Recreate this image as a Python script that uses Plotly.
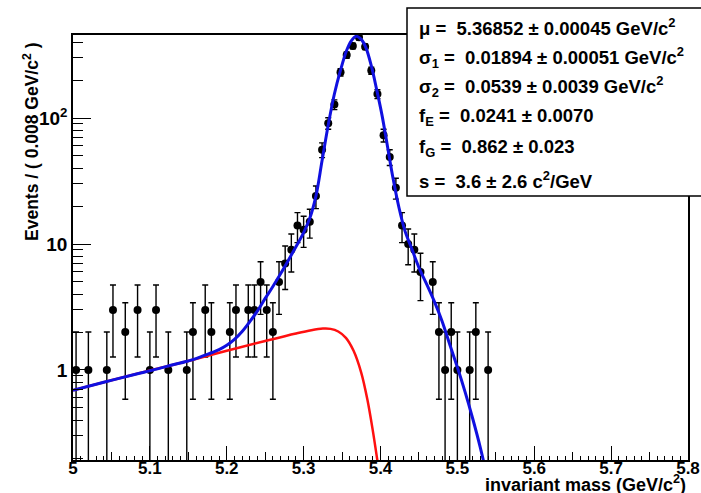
import math
import plotly.graph_objects as go

# ---------------- data ----------------
bin_width = 0.008
x_min, x_max = 5.0, 5.8
# counts per bin (100 bins of 0.008 GeV/c^2 starting at 5.0); zero bins are not drawn
counts = [1, 0, 1, 0, 0, 1, 3, 0, 2, 0,
          3, 0, 1, 3, 0, 1, 0, 0, 1, 2,
          0, 3, 2, 0, 0, 2, 3, 0, 3, 3,
          5, 3, 2, 5, 7, 9, 14, 13, 15, 24,
          56, 91, 128, 231, 316, 373, 437, 368, 238, 155,
          73, 49, 28, 14, 10, 9, 6, 0, 5, 2,
          1, 2, 1, 0, 1, 2, 0, 1, 0, 0] + [0] * 30

# total fit curve (blue)
fit_mass = [5.000, 5.040, 5.080, 5.110, 5.130, 5.150, 5.160, 5.170, 5.180, 5.190,
            5.200, 5.210, 5.220, 5.230, 5.240, 5.250, 5.260, 5.270, 5.280, 5.290,
            5.300, 5.308, 5.316, 5.324, 5.332, 5.340, 5.348, 5.356, 5.362, 5.3685,
            5.375, 5.381, 5.388, 5.395, 5.402, 5.409, 5.416, 5.424, 5.432, 5.440,
            5.450, 5.460, 5.470, 5.480, 5.490, 5.500, 5.510, 5.520, 5.530, 5.540]
fit_vals = [0.69, 0.80, 0.92, 1.02, 1.10, 1.18, 1.23, 1.30, 1.37, 1.45,
            1.57, 1.75, 2.02, 2.42, 2.95, 3.7, 4.6, 5.8, 7.4, 9.5,
            12.3, 16, 24, 46, 88, 155, 240, 345, 410, 445,
            421, 362, 260, 168, 105, 60, 34, 19.5, 12.6, 9.4,
            6.5, 4.8, 3.5, 2.45, 1.6, 1.05, 0.67, 0.41, 0.24, 0.13]

# background component (red)
bkg_mass = [5.000, 5.050, 5.100, 5.150, 5.200, 5.250, 5.290, 5.310, 5.325, 5.335,
            5.345, 5.355, 5.365, 5.375, 5.383, 5.390, 5.396, 5.402]
bkg_vals = [0.69, 0.83, 0.99, 1.18, 1.42, 1.70, 1.95, 2.07, 2.13, 2.12,
            2.02, 1.80, 1.42, 0.95, 0.58, 0.33, 0.19, 0.11]

# y range of the frame
y_min, y_max = 0.193, 456

x_major = [5.0, 5.1, 5.2, 5.3, 5.4, 5.5, 5.6, 5.7, 5.8]
x_labels = ["5", "5.1", "5.2", "5.3", "5.4", "5.5", "5.6", "5.7", "5.8"]
y_major = [1, 10, 100]
y_labels = ["1", "10", "10<sup>2</sup>"]
y_minor = [0.2, 0.3, 0.4, 0.5, 0.6, 0.7, 0.8, 0.9,
           2, 3, 4, 5, 6, 7, 8, 9,
           20, 30, 40, 50, 60, 70, 80, 90, 200, 300, 400]

stat_lines = [
    "μ =  5.36852 ± 0.00045 GeV/c<sup>2</sup>",
    "σ<sub>1</sub> =  0.01894 ± 0.00051 GeV/c<sup>2</sup>",
    "σ<sub>2</sub> =  0.0539 ± 0.0039 GeV/c<sup>2</sup>",
    "f<sub>E</sub> =  0.0241 ± 0.0070",
    "f<sub>G</sub> =  0.862 ± 0.023",
    "s =  3.6 ± 2.6 c<sup>2</sup>/GeV",
]

x_title = "invariant mass (GeV/c<sup>2</sup>)"
y_title = "Events / ( 0.008 GeV/c<sup>2</sup> )"

# ---------------- figure ----------------
W, H = 701, 493
L, R, T, B = 73, 688, 35, 460  # frame in pixels


def px(xp):
    return (xp - L) / (R - L)


def py(yp):
    return (B - yp) / (B - T)


centers = [x_min + bin_width * (i + 0.5) for i in range(len(counts))]
dx = [c for c, n in zip(centers, counts) if n > 0]
dy = [n for n in counts if n > 0]
de = [n ** 0.5 for n in dy]

FONT = "Liberation Sans"

fig = go.Figure()
fig.add_trace(go.Scatter(
    x=dx, y=dy, mode="markers",
    marker=dict(symbol="circle", size=8, color="black"),
    error_y=dict(type="data", array=de, visible=True, color="black", thickness=1.4, width=3),
    showlegend=False, hoverinfo="skip"))
fig.add_trace(go.Scatter(
    x=bkg_mass, y=bkg_vals, mode="lines", line=dict(color="#ff1010", width=2.5, shape="spline"),
    showlegend=False, hoverinfo="skip"))
fig.add_trace(go.Scatter(
    x=fit_mass, y=fit_vals, mode="lines", line=dict(color="#1010e0", width=3, shape="spline"),
    showlegend=False, hoverinfo="skip"))
# invisible trace that activates the medium-tick x axis
fig.add_trace(go.Scatter(x=[x_min], y=[1], xaxis="x2", mode="markers",
                         marker=dict(opacity=0), showlegend=False, hoverinfo="skip"))

fig.update_layout(
    width=W, height=H,
    margin=dict(l=L, r=W - R, t=T, b=H - B, autoexpand=False),
    paper_bgcolor="white", plot_bgcolor="white",
    font=dict(family=FONT, color="black"),
    xaxis=dict(range=[x_min, x_max], showgrid=False, zeroline=False, automargin=False,
               showline=True, linecolor="black", linewidth=1.5, mirror=True,
               ticks="inside", ticklen=14, tickwidth=1, tickcolor="black",
               tickvals=x_major, ticktext=x_labels, ticklabelstandoff=-8,
               tickfont=dict(family=FONT, size=17, color="black", weight="bold"),
               minor=dict(ticks="inside", dtick=0.01, tick0=5.0, ticklen=4, tickcolor="black", showgrid=False)),
    xaxis2=dict(range=[x_min, x_max], overlaying="x", side="bottom", showgrid=False, zeroline=False,
                automargin=False, showline=False, ticks="inside", ticklen=8, tickcolor="black",
                dtick=0.05, tick0=5.0, showticklabels=False),
    yaxis=dict(type="log", range=[math.log10(y_min), math.log10(y_max)],
               showgrid=False, zeroline=False, automargin=False,
               showline=True, linecolor="black", linewidth=1.5, mirror=True,
               ticks="inside", ticklen=18, tickwidth=1, tickcolor="black",
               tickvals=y_major, ticktext=y_labels,
               tickfont=dict(family=FONT, size=19, color="black", weight="bold"),
               minor=dict(ticks="inside", tickvals=y_minor, ticklen=10, tickcolor="black", showgrid=False)),
)

# stat box
fig.add_shape(type="rect", xref="paper", yref="paper",
              x0=px(407), x1=px(712), y0=py(196), y1=py(8),
              line=dict(color="black", width=1.5), fillcolor="white", layer="above")
line_y = [27, 57, 86, 117, 148, 180]
for t, yy in zip(stat_lines, line_y):
    fig.add_annotation(xref="paper", yref="paper", x=px(417), y=py(yy), text=t,
                       xanchor="left", yanchor="middle", showarrow=False,
                       font=dict(family=FONT, size=18.5, color="black", weight="bold"))

# axis titles
fig.add_annotation(xref="paper", yref="paper", x=1.0, y=py(483), text=x_title,
                   xanchor="right", yanchor="middle", showarrow=False,
                   font=dict(family=FONT, size=18, color="black", weight="bold"))
fig.add_annotation(xref="paper", yref="paper", x=px(31), y=py(142), text=y_title,
                   textangle=-90, xanchor="center", yanchor="middle", showarrow=False,
                   font=dict(family=FONT, size=17.5, color="black", weight="bold"))

fig.write_html("out.html", config={"displayModeBar": False},
               post_script="document.body.style.margin='0';document.body.style.padding='0';")
